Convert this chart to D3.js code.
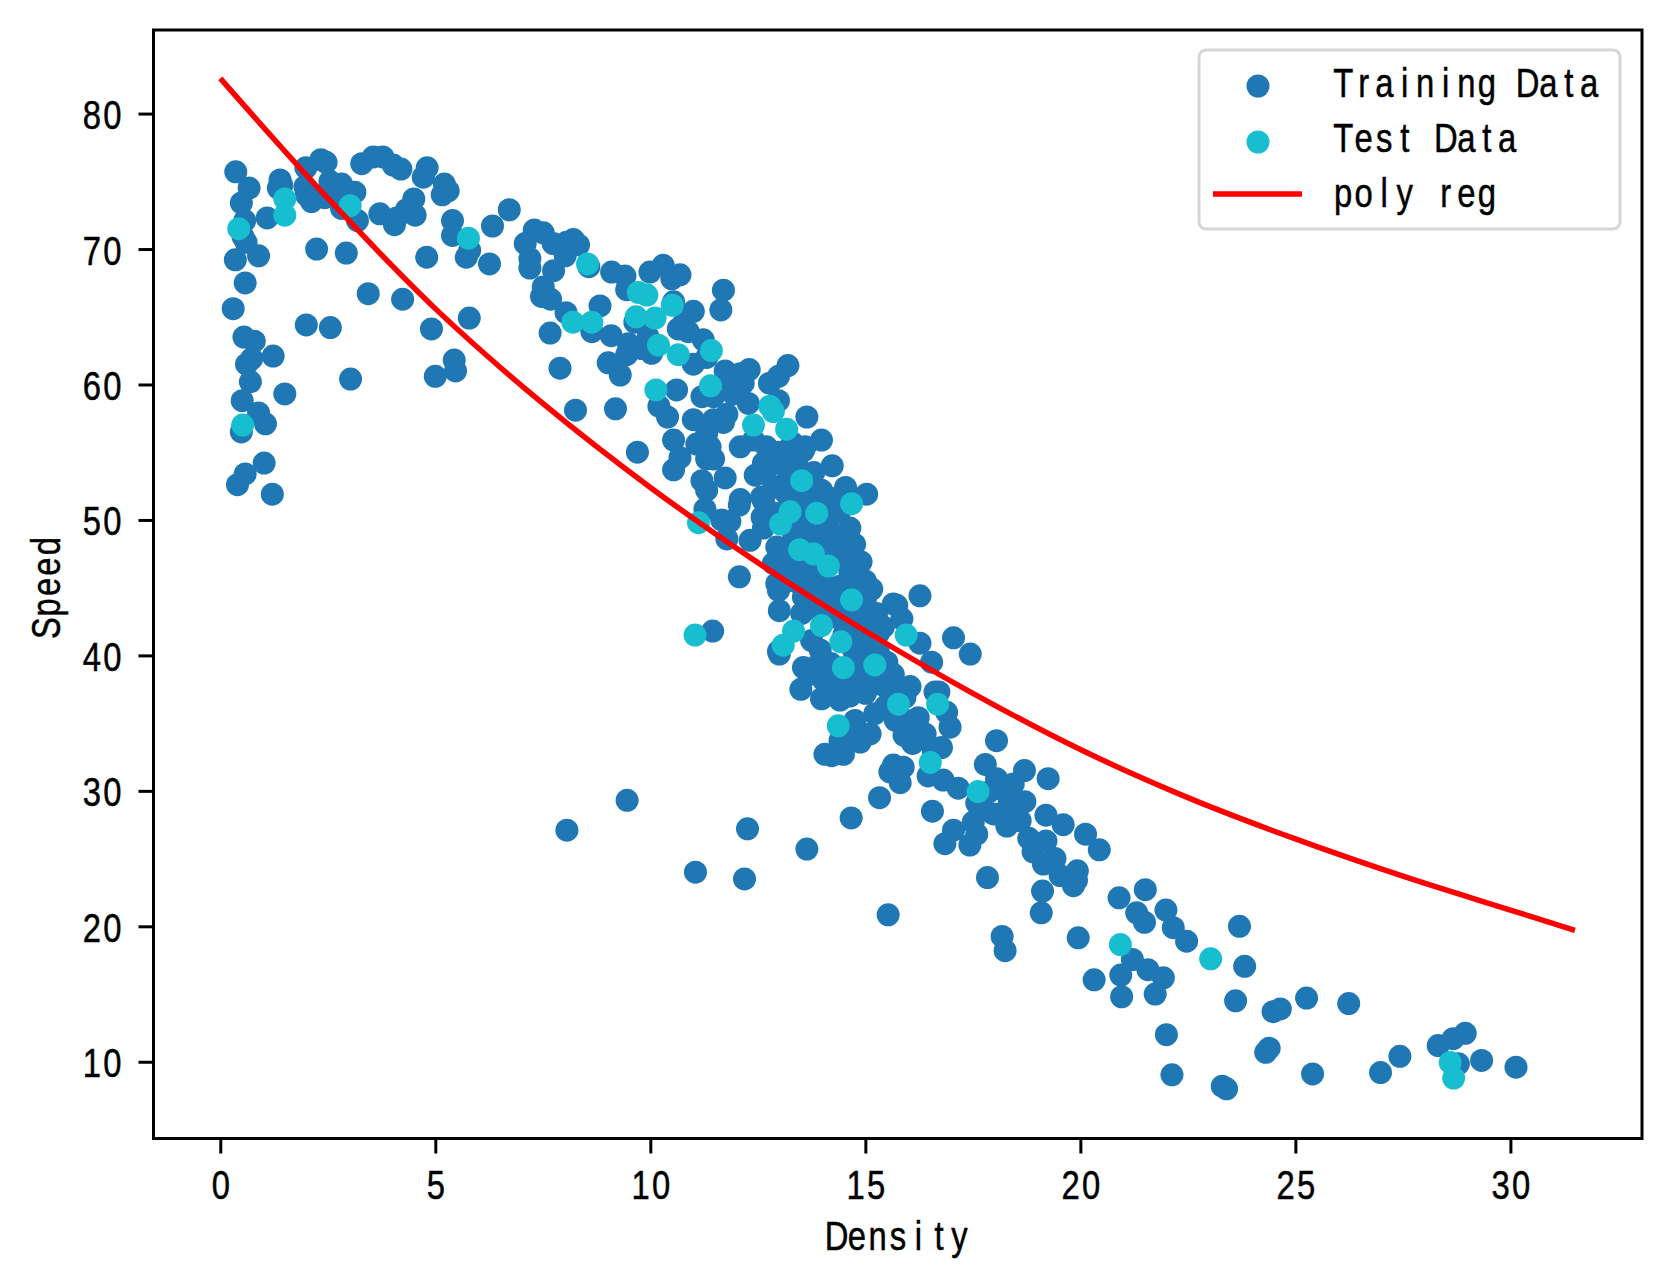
<!DOCTYPE html>
<html>
<head>
<meta charset="utf-8">
<script src="https://cdn.jsdelivr.net/npm/d3@7"></script>
<style>
  html, body { margin: 0; padding: 0; background: #fff; }
  svg { display: block; }
</style>
</head>
<body>
<svg id="chart"></svg>
<script>
// density, speed
const trainData = [
  [.36,75.7],[.67,74.5],[.49,73.4],[.57,72.1],[.53,70.9],[.6,70.5],[.35,69.2],[.89,69.5],[.58,67.5],[.3,65.6],
  [.55,63.5],[.79,63.2],[.73,61.9],[.61,61.5],[1.23,62.1],[.7,60.2],[.51,58.8],[.89,57.9],[1.05,57.1],[.49,56.5],
  [1.5,59.3],[1.02,54.2],[.58,53.4],[.4,52.6],[1.21,51.9],[1.09,72.3],[1.39,75.1],[1.43,74.7],[1.35,74.5],
  [1.99,76],[2.34,76.6],[2.46,76.4],[1.97,74.6],[2.12,73.5],[2,74],[2.55,75],[2.82,74.8],[2.67,74.3],[3.13,74.2],
  [2.43,73.8],[2.82,73],[3.19,72.1],[2.24,70],[2.93,69.7],[3.44,66.7],[4.24,66.3],[2,64.4],[2.56,64.2],[3.03,60.4],
  [3.29,76.3],[3.56,76.8],[3.78,76.8],[4.02,76.2],[4.2,75.9],[4.72,75.3],[4.81,76],[5.21,74.8],[5.16,74],[5.3,74.3],
  [4.5,73.7],[3.71,72.6],[4.05,71.8],[4.1,72.3],[4.53,72.5],[4.33,72.9],[5.4,72.1],[5.4,71],[5.72,69.4],[5.8,69.9],
  [4.8,69.4],[6.26,68.9],[6.33,71.7],[6.72,72.9],[5.79,64.9],[4.91,64.1],[5.44,61.8],[5.47,61],[5,60.6],
  [7.3,71.4],[7.51,71.2],[7.09,70.4],[7.2,69.3],[7.2,68.6],[7.74,70.4],[8.05,70.5],[8.21,70.7],[8.33,70.3],[8.02,69.5],
  [7.75,68.4],[8.57,68.7],[7.51,67.2],[7.47,66.5],[7.68,66.3],[9.1,68.3],[9.41,68],[9.45,67],[9.99,68.3],[10.3,68.8],
  [10.5,67.8],[10.69,68.1],[11.7,66.96],[11.64,65.5],[10.54,66.1],[8.04,65.3],[8.83,65.8],[8.64,63.9],[9.64,64.6],
  [7.67,63.8],[9.09,63.6],[9.49,63],[9.8,62.65],[9.45,62.2],[10.03,62.3],[9.95,63.5],[10.65,64.1],[11,65.4],[10.77,64.5],
  [10.88,63.9],[11.23,63.3],[11,61.5],[11.31,62],[9.02,61.6],[9.3,60.7],[7.9,61.2],[10.61,59.6],[8.26,58.1],[9.19,58.2],
  [9.7,55],[10.2,58.4],[10.4,57.6],[10.54,55.9],[10.69,54.6],[10.54,53.7],[11.74,61],[12.3,61.1],[12.09,60.8],[11.85,60.3],
  [12.16,60.1],[11.2,59.1],[11.47,59.1],[11.93,59.3],[12.28,58.6],[13.2,61.4],[12.98,60.6],[12.77,60.1],[12.98,58.8],
  [13.64,57.6],[11,57.4],[11.47,57.4],[11.78,57.8],[11.7,57.2],[11.31,56.4],[11.08,55.6],[11.39,55.4],[11.31,54.5],
  [11.47,54.5],[11.2,52.9],[11.31,52.2],[11.74,53.1],[12.09,55.4],[12.4,55.9],[12.7,55.4],[12.44,53.3],[12.86,54.4],
  [12.63,54.2],[12.7,53.7],[13,54.2],[13.33,55.3],[13.56,55.1],[13.13,52.7],[13.4,54.2],[12.09,51.5],[12.59,51.7],[13.17,51.9],
  [13.3,55.7],[13.6,55.4],[13,55],[13.98,55.9],[14.23,54],[13.98,52.2],[12.86,52.4],[12.63,51.4],[13.17,52.2],[13.4,51.7],
  [13.48,51],[14.54,52.4],[15.03,51.9],[11.27,50.8],[12.07,51.1],[11.66,50],[11.85,49.9],[11.78,48.6],[12.32,48.5],
  [12.63,49.4],[13.48,51.2],[14.64,49.4],[14.33,48.5],[14.37,48],[12.07,45.8],[12.94,48],[13,47.3],[13.33,48.5],[13.79,49],
  [14.14,49.2],[14.57,46.8],[14.64,46],[14.68,45.3],[14.41,45.1],[13.79,46],[13.4,46],[13.17,46.3],[12.86,46.8],[12.98,44.8],
  [13,43.3],[12.94,45.3],[15,44.1],[15.26,43.1],[15.22,42.1],[15.42,42.1],[15.15,42.7],[13.52,43.1],[13.56,44.3],[13.95,43.3],
  [14.33,42.8],[14.8,42.1],[15.65,43.8],[13.1,47],[13.3,47.5],[13.5,46.8],[13.2,45.5],[13.5,45.2],[13.8,45],[14,45.5],
  [14.2,45],[14,44.2],[14.3,44],[14.5,43.8],[14.7,43.2],[14.2,43.1],[14.9,42.6],[15.1,42],[15.3,41.6],[14.5,41.5],[14.8,41],
  [15,40.5],[15.3,40.3],[15.5,39.5],[13.7,48.6],[14,48],[13.5,49.5],[13.9,47.8],[14.1,50],[14.26,49],[14.1,48],[14.57,47.5],
  [11.45,41.8],[13,40.1],[13.75,41.1],[16.27,44.4],[15.73,43.7],[15.85,42.7],[16.27,40.9],[16.54,39.5],[17.05,41.3],[17.44,40.1],
  [12.98,40.3],[13.56,39.1],[13.5,37.5],[13.98,36.8],[14.02,38.2],[14.41,36.7],[14.64,37],[14.6,38.2],[14.26,37.9],[14.18,37.4],
  [14.88,39.6],[13.95,40.4],[14.72,40.4],[15.3,37.9],[15.65,38.6],[16.04,37.7],[15.65,37.4],[15.92,36.9],[15.96,35.2],[16.23,35.4],
  [16.15,34],[16.39,34.2],[16.77,33.2],[16.58,33],[16.71,37.3],[16.89,35.8],[16.97,34.7],[16.62,37.3],[15.22,35.7],[15.46,36.2],
  [15.11,34.2],[14.88,33.6],[14.76,35.2],[14.49,32.7],[14.22,32.6],[14.06,32.7],[14.64,33.7],[14.41,33.7],[15.65,31.9],[15.88,31.75],
  [15.57,31.4],[15.81,30.6],[15.33,29.5],[14.67,28],[13.64,25.7],[16.56,28.5],[16.46,31.1],[16.81,30.8],[17.16,30.2],[17.05,27.1],
  [16.85,26.1],[17.43,26],[17.63,29],[8.06,27.1],[9.46,29.3],[11.05,24],[12.26,27.2],[12.19,23.5],
  [18.05,33.7],[17.79,31.95],[18.7,31.5],[19.25,30.9],[18.05,30.9],[18.44,30.5],[17.86,29.9],[17.59,29.1],[18.29,29.8],[18.71,29.2],
  [17.98,28.3],[18.32,28.8],[18.29,27.4],[18.6,27.8],[17.51,27.7],[17.59,26.8],[17.84,23.6],[19.2,28.2],[19.6,27.5],[20.12,26.8],
  [20.44,25.65],[18.8,26.5],[19.2,26.3],[18.9,25.5],[19.41,25],[19.14,24.6],[19.53,23.75],[19.93,24.1],[19.91,23.4],[19.84,23],
  [19.12,22.6],[19.09,21],[18.18,19.25],[18.25,18.2],[15.53,20.85],[19.95,19.15],[20.9,22.1],[21.51,22.7],[21.31,21],[21.49,20.3],
  [21.99,21.2],[22.16,19.9],[21.21,17.55],[21.57,16.8],[21.93,16.2],[20.94,16.4],[21.74,15],[20.96,14.8],[20.32,16.05],
  [22.47,18.9],[23.7,20],[23.82,17.05],[23.61,14.5],[22,12],[22.13,9.04],[23.3,8.2],[23.4,8],[24.31,10.7],[24.39,11],
  [24.48,13.7],[24.65,13.9],[25.26,14.7],[26.24,14.3],[25.4,9.1],[26.98,9.2],[27.43,10.4],[28.32,11.2],[28.67,11.7],[28.95,12.1],
  [28.79,9.85],[29.33,10.1],[30.13,9.6],
  // inside the dense middle, read less exactly
  [13.6,52.5],[13.8,53.5],[13.3,53.3],[12.9,50.5],[13.3,49.2],[12.6,50.2],[13.9,51.3],[14.4,50.6],[14.2,51.6],[14.75,48.2],
  [14.9,46.9],[15,45.5],[15.15,44.9],[13.7,38.6],[14.8,38.3],[15,37.2],[14.2,39.4],[13.9,39.3],[14.5,37.5],[15.1,38.8],
  [15.5,37.6],[15.7,35.2],[15.9,34.1],[16.1,33.5]
];

const testData = [
  [.43,71.5],[.52,57],[1.5,73.7],[1.5,72.5],[3.02,73.2],[5.77,70.8],[8.54,68.9],[9.72,66.8],[9.92,66.6],[10.51,65.85],
  [9.67,65],[10.11,64.9],[8.2,64.6],[8.64,64.6],[10.19,62.9],[10.65,62.2],[11.42,62.5],[10.13,59.6],[11.4,59.9],[12.78,58.4],
  [12.86,58],[13.17,56.7],[12.4,57],[13.52,52.9],[14.68,51.2],[11.12,49.8],[13.25,50.6],[13.03,49.7],[13.87,50.5],[13.47,47.8],
  [13.79,47.5],[14.14,46.6],[14.68,44.1],[13.98,42.2],[13.33,41.8],[14.43,41],[13.09,40.75],[11.04,41.5],[15.95,41.5],[16.68,36.4],
  [15.77,36.4],[15.22,39.3],[14.49,39.1],[14.37,34.8],[16.51,32.1],[17.62,29.95],[20.93,18.65],[23.03,17.6],[28.6,9.95],[28.68,8.8]
];

const curveDensity = [0, 2.5, 5, 7.5, 10, 12.5, 15, 17.5, 20, 22.5, 25, 27.5, 30, 31.5];
const curveSpeed = [82.6, 73.75, 65.6, 58.6, 52.4, 46.85, 41.8, 37.2, 33.05, 29.5, 26.45, 23.7, 21.2, 19.7];

const xTicks = [0, 5, 10, 15, 20, 25, 30];
const yTicks = [10, 20, 30, 40, 50, 60, 70, 80];
const legendLabels = ["Training Data", "Test Data", "poly reg"];

const W = 1670, H = 1284;
const m = { t: 30, r: 28, b: 145.5, l: 153.5 };
const BLUE = "#1f77b4", CYAN = "#17becf", RED = "#ff0000";
const R = 11.5;

const svg = d3.select("#chart").attr("width", W).attr("height", H).attr("viewBox", `0 0 ${W} ${H}`);

const x = d3.scaleLinear().domain([-1.553, 33.06]).range([m.l, W - m.r]);
const y = d3.scaleLinear().domain([4.335, 86.17]).range([H - m.b, m.t]);

// half-width look of the original font: squeeze Liberation Sans and put every glyph in a fixed cell
const FONT = "Liberation Sans", FS = 41, SQUEEZE = 0.8, CELL = 20.5;
const ctx = document.createElement("canvas").getContext("2d");
ctx.font = `${FS}px "${FONT}"`;

function mono(sel, str, px, py, anchor, angle = 0) {
  const cell = CELL / SQUEEZE;
  const n = str.length;
  const start = anchor === "middle" ? -n * cell / 2 : anchor === "end" ? -n * cell : 0;
  const xs = Array.from(str, (c, i) => (start + i * cell + (cell - ctx.measureText(c).width) / 2).toFixed(1));
  sel.attr("x", xs.join(" ")).attr("y", 0).attr("dy", null)
    .attr("text-anchor", "start").attr("fill", "#000")
    .attr("stroke", "#000").attr("stroke-width", 0.5)
    .attr("transform", `translate(${px},${py}) rotate(${angle}) scale(${SQUEEZE},1)`)
    .style("font-family", `"${FONT}", sans-serif`).style("font-size", FS + "px")
    .style("white-space", "pre")
    .text(str);
}

// dots
svg.append("g").selectAll("circle").data(trainData).join("circle")
  .attr("cx", d => x(d[0])).attr("cy", d => y(d[1])).attr("r", R).attr("fill", BLUE);
svg.append("g").selectAll("circle").data(testData).join("circle")
  .attr("cx", d => x(d[0])).attr("cy", d => y(d[1])).attr("r", R).attr("fill", CYAN);

// regression curve
const line = d3.line().x(d => x(d)).y((d, i) => y(curveSpeed[i])).curve(d3.curveCatmullRom);
svg.append("path").datum(curveDensity)
  .attr("fill", "none").attr("stroke", RED).attr("stroke-width", 5.5).attr("d", line);

// axes
const gx = svg.append("g").attr("transform", `translate(0,${H - m.b})`)
  .call(d3.axisBottom(x).tickValues(xTicks).tickSize(15));
gx.selectAll("text").each(function (d) { mono(d3.select(this), String(d), 0, 60, "middle"); });

const gy = svg.append("g").attr("transform", `translate(${m.l},0)`)
  .call(d3.axisLeft(y).tickValues(yTicks).tickSize(15));
gy.selectAll("text").each(function (d) { mono(d3.select(this), String(d), -31, 15, "end"); });

svg.selectAll(".tick line").attr("stroke", "#000").attr("stroke-width", 3);
svg.selectAll(".domain").remove();

svg.append("rect")
  .attr("x", m.l).attr("y", m.t).attr("width", W - m.r - m.l).attr("height", H - m.b - m.t)
  .attr("fill", "none").attr("stroke", "#000").attr("stroke-width", 3);

svg.append("text").call(mono, "Density", 898, 1250, "middle");
svg.append("text").call(mono, "Speed", 60, 587, "middle", -90);

// legend
const legend = svg.append("g");
legend.append("rect")
  .attr("x", 1199).attr("y", 50).attr("width", 421).attr("height", 179).attr("rx", 7)
  .attr("fill", "#fff").attr("fill-opacity", 0.8).attr("stroke", "#d6d6d6").attr("stroke-width", 3);
legend.append("circle").attr("cx", 1258).attr("cy", 86).attr("r", R).attr("fill", BLUE);
legend.append("circle").attr("cx", 1258).attr("cy", 142).attr("r", R).attr("fill", CYAN);
legend.append("line").attr("x1", 1213).attr("x2", 1302).attr("y1", 194).attr("y2", 194)
  .attr("stroke", RED).attr("stroke-width", 5.5);
[97, 152, 207].forEach((by, i) => legend.append("text").call(mono, legendLabels[i], 1333, by, "start"));
</script>
</body>
</html>
